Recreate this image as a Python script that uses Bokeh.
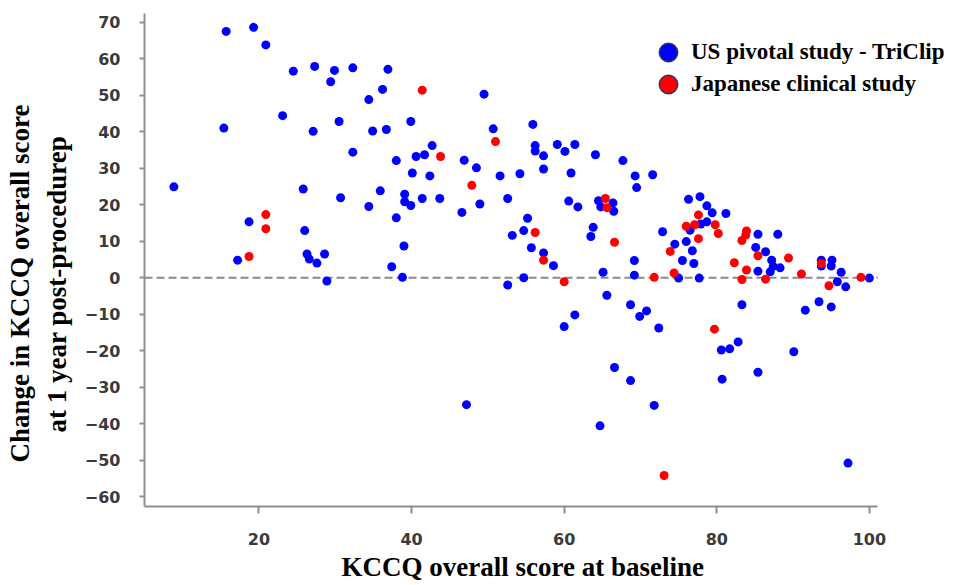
from bokeh.plotting import figure
from bokeh.models import Range1d, FixedTicker, Legend, LegendItem, Title, ColumnDataSource
from bokeh.embed import file_html
from bokeh.resources import INLINE

# ---- data ----
us_x = [15.7, 19.3, 20.9, 24.5, 27.3, 29.9, 32.3, 36.9, 29.4, 36.2, 34.4, 23.1, 15.4, 27.1, 30.5, 34.9, 36.7, 32.3,
        49.5, 39.9, 50.7, 55.9, 38.0, 40.6, 41.7, 42.7, 46.9, 48.5, 56.2, 56.2, 57.3, 59.1, 60.1, 61.4, 64.1, 67.7,
        40.1, 42.4, 51.6, 54.2, 57.3, 60.9, 69.3,
        8.85, 25.8, 30.7, 35.9, 34.4, 18.7, 26.0, 17.2, 26.3, 26.6, 27.6, 28.6, 28.9, 37.4,
        69.5, 39.1, 39.1, 39.9, 41.4, 43.7, 38.0, 46.6, 48.95, 52.6, 60.6, 61.8, 64.5, 64.8, 66.4, 66.5, 55.2, 53.2,
        54.7, 55.7, 57.3, 58.6, 63.8, 63.5, 39.0, 38.8, 52.6, 54.7, 65.1, 65.6, 69.2, 69.2, 68.7, 69.9, 61.4, 60.0,
        71.6, 76.3, 77.8, 78.7, 79.4, 81.2, 76.5, 77.9, 78.7, 72.9, 74.5, 76.0, 76.8, 75.5, 77.0, 75.0, 77.7, 85.4,
        88.0, 85.1, 86.4, 87.2, 85.4, 87.4, 87.0, 88.3, 93.7, 93.7, 95.1, 95.0, 96.3, 95.8, 96.9, 100.0, 83.3, 91.6,
        93.4, 95.0, 70.8, 72.4,
        80.6, 81.7, 82.8, 90.1, 80.7, 85.4, 71.8, 97.2,
        47.2, 66.6, 68.7, 64.7]
us_y = [67.5, 68.6, 63.8, 56.6, 57.9, 56.8, 57.5, 57.1, 53.7, 51.6, 48.8, 44.4, 41.0, 40.1, 42.8, 40.2, 40.6, 34.4,
        50.3, 42.8, 40.8, 42.0, 32.1, 33.2, 33.7, 36.2, 32.2, 30.1, 36.2, 34.7, 33.4, 36.5, 34.6, 36.5, 33.7, 32.1,
        28.7, 27.9, 27.9, 28.5, 29.8, 28.7, 27.9,
        24.9, 24.3, 21.9, 23.8, 19.5, 15.3, 12.9, 4.8, 6.5, 5.1, 4.0, 6.5, -0.9, 3.0,
        24.7, 22.9, 20.8, 19.8, 21.7, 21.7, 16.4, 17.9, 20.2, 21.7, 21.0, 19.4, 21.1, 19.4, 20.5, 18.2, 16.3, 11.6,
        12.9, 8.2, 6.8, 3.3, 13.8, 11.3, 8.7, 0.1, -2.0, 0.0, 1.5, -4.8, 4.7, 0.7, -7.4, -10.6, -10.2, -13.4,
        28.2, 21.5, 22.2, 19.7, 17.8, 17.6, 13.0, 14.7, 15.3, 12.6, 9.2, 9.9, 7.4, 4.7, 3.9, -0.1, -0.1, 11.9,
        11.9, 8.3, 7.1, 4.8, 1.8, 3.1, 1.6, 2.7, 4.8, 3.2, 4.8, 3.2, 1.5, -1.1, -2.5, -0.1, -7.4, -8.9,
        -6.6, -8.0, -9.1, -13.8,
        -19.8, -19.5, -17.6, -20.3, -27.8, -25.9, -35.0, -50.8,
        -34.8, -24.6, -28.2, -40.6]

jp_x = [41.4, 51.0, 43.8, 20.9, 20.9, 18.7, 47.9, 65.4, 65.6, 56.2, 57.3, 66.6, 60.0,
        77.6, 76.0, 77.1, 79.8, 80.2, 73.9, 77.6, 74.4, 71.8, 83.9, 83.8, 83.3, 85.4, 82.3, 83.9, 83.3, 86.4,
        89.4, 91.1, 93.7, 94.7, 98.9, 79.7, 73.1]
jp_y = [51.4, 37.3, 33.2, 17.3, 13.4, 5.8, 25.3, 21.7, 19.2, 12.4, 4.8, 9.7, -1.1,
        17.2, 14.1, 14.5, 14.5, 12.1, 7.2, 10.7, 1.3, 0.1, 12.8, 11.7, 10.2, 6.0, 4.1, 2.1, -0.5, -0.4,
        5.4, 1.0, 3.9, -2.2, 0.1, -14.1, -54.2]

x_ticks = [20, 40, 60, 80, 100]
y_ticks = [70, 60, 50, 40, 30, 20, 10, 0, -10, -20, -30, -40, -50, -60]
series_names = ["US pivotal study - TriClip", "Japanese clinical study"]
x_title = "KCCQ overall score at baseline"
y_title_lines = ["Change in KCCQ overall score", "at 1 year post-procedurep"]

X_MIN, X_AXIS_END, X_VIEW_END = 5, 101.1, 111.55
Y_MIN, Y_MAX = -62.7, 72.4

SERIF = "Liberation Serif"
SANS = "DejaVu Sans"

W, H = 957, 585
FL, FT, FB = 144, 13, 506  # frame left / top / bottom in pixels

p = figure(width=W, height=H, output_backend="svg", toolbar_location=None,
           x_range=Range1d(X_MIN, X_VIEW_END), y_range=Range1d(Y_MIN, Y_MAX),
           min_border_left=FL, min_border_right=0, min_border_top=FT, min_border_bottom=H - FB)
p.outline_line_color = None
p.grid.visible = False
p.background_fill_color = "white"
p.border_fill_color = "white"

for ax in (p.xaxis[0], p.yaxis[0]):
    ax.axis_line_color = "#8f8f8f"
    ax.axis_line_width = 2
    ax.major_tick_line_color = "#8f8f8f"
    ax.major_tick_line_width = 2
    ax.major_tick_in = 0
    ax.minor_tick_line_color = None
    ax.major_label_text_font = SANS
    ax.major_label_text_font_style = "bold"
    ax.major_label_text_font_size = "16px"
    ax.major_label_text_color = "#3a3a3a"

p.xaxis.bounds = (X_MIN, X_AXIS_END)
p.xaxis.ticker = FixedTicker(ticks=x_ticks)
p.yaxis.ticker = FixedTicker(ticks=y_ticks)
p.xaxis.major_tick_out = 7
p.yaxis.major_tick_out = 5
p.xaxis.major_label_standoff = 19
p.yaxis.major_label_standoff = 19

# dashed zero reference line across the axis extent
p.segment(x0=[X_MIN], x1=[X_AXIS_END], y0=[0], y1=[0], line_color="#8a8a8a",
          line_width=2, line_dash="8 4")

us_src = ColumnDataSource(dict(x=us_x, y=us_y))
jp_src = ColumnDataSource(dict(x=jp_x, y=jp_y))

# legend-only renderers: zero-size markers (legend draws its own sized glyph with the outline)
lg_us = p.scatter("x", "y", source=us_src, size=0, fill_color="#0000ff",
                  line_color="#2b3a5a", line_width=1.5)
lg_jp = p.scatter("x", "y", source=jp_src, size=0, fill_color="#ff0000",
                  line_color="#2b3a5a", line_width=1.5)

p.scatter("x", "y", source=us_src, size=9, fill_color="#0000ff", line_color=None)
p.scatter("x", "y", source=jp_src, size=9, fill_color="#ff0000", line_color=None)

G = 46
for i, (r, name) in enumerate([(lg_us, series_names[0]), (lg_jp, series_names[1])]):
    cy = 52 + 32 * i  # row centre (pixels from top)
    leg = Legend(items=[LegendItem(label=name, renderers=[r])],
                 location=(668 - G / 2 - FL, FB - (cy + G / 2)),
                 glyph_width=G, glyph_height=G, label_standoff=-8,
                 padding=0, margin=0, spacing=0,
                 border_line_color=None, background_fill_alpha=0,
                 label_text_font=SERIF, label_text_font_style="bold",
                 label_text_font_size="23px", label_text_color="#000000")
    p.add_layout(leg, "center")

# axis titles (align="left" so that offset positions them)
p.add_layout(Title(text=x_title, align="left", offset=341 - FL, standoff=5,
                   text_font=SERIF, text_font_style="bold", text_font_size="27px",
                   text_color="#000000"), "below")
# inner line first (closest to the axis), then the outer line
p.add_layout(Title(text=y_title_lines[1], align="left", offset=FB - 432, standoff=19,
                   text_font=SERIF, text_font_style="bold", text_font_size="27px",
                   text_color="#000000"), "left")
p.add_layout(Title(text=y_title_lines[0], align="left", offset=FB - 462, standoff=-9,
                   text_font=SERIF, text_font_style="bold", text_font_size="27px",
                   text_color="#000000"), "left")

open("out.html", "w").write(file_html(p, INLINE))
